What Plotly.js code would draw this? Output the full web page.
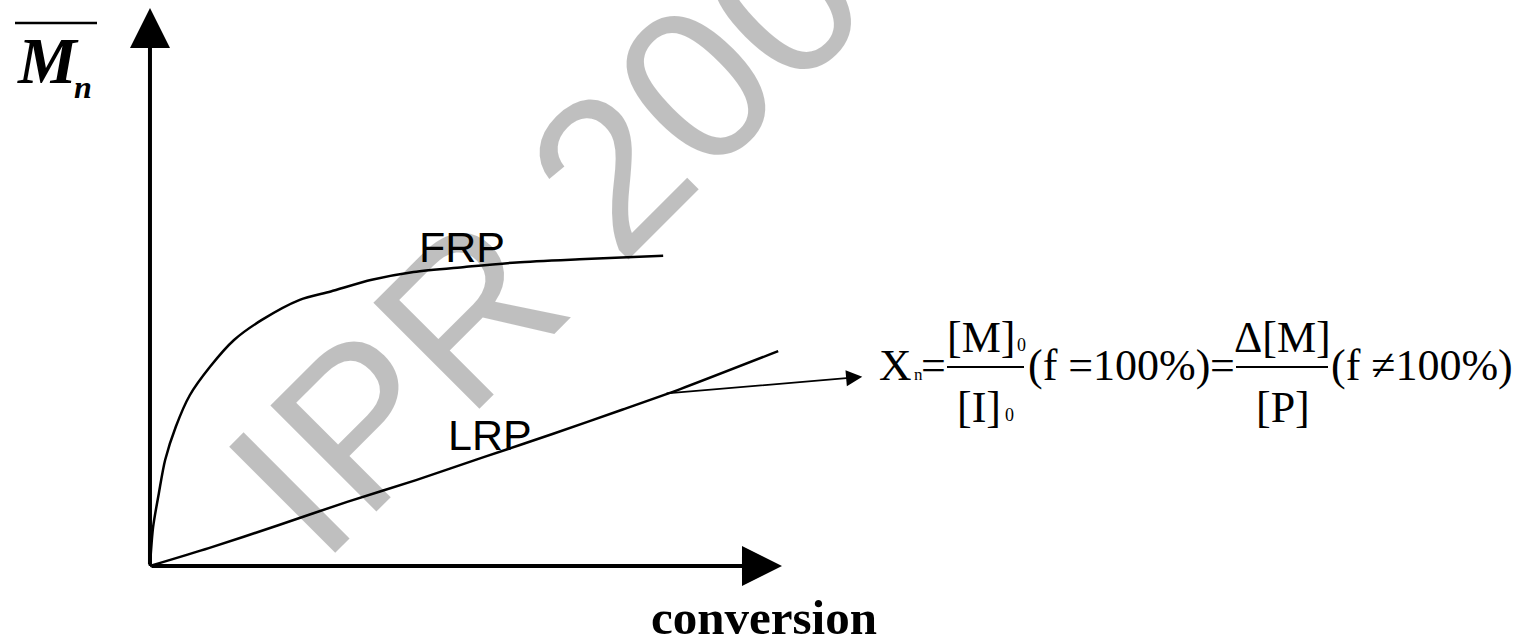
<!DOCTYPE html>
<html>
<head>
<meta charset="utf-8">
<script src="https://cdn.plot.ly/plotly-3.0.1.min.js"></script>
<style>
  html, body { margin: 0; padding: 0; background: #fff; }
  #chart { width: 1528px; height: 641px; }
</style>
</head>
<body>
<div id="chart"></div>
<script>
// conversion (%), Mn (relative units)
let frpConv = [0, 0.5, 1.4, 2.4, 4.1, 6.3, 9.5, 13.3, 17.7, 23.7, 28.6, 35.1, 41.7, 49.8, 58.0, 68.9, 81.2];
let frpMn   = [0, 7.0, 13.0, 19.0, 25.0, 30.6, 35.7, 40.5, 44.1, 47.7, 49.2, 51.3, 52.7, 53.6, 54.4, 55.0, 55.6];
let lrpConv = [0, 9.3, 20.3, 31.2, 42.1, 52.8, 63.8, 74.7, 83.9, 99.4];
let lrpMn   = [0, 3.2, 7.3, 11.5, 15.4, 19.5, 23.7, 28.0, 31.7, 38.5];

const W = 1528, H = 641;
// pixel -> paper helpers for the free-standing text
function px(v) { return v / W; }
function py(v) { return 1 - v / H; }

let serif = "Liberation Serif, Times New Roman, serif";
let sans = "Liberation Sans, Arial, sans-serif";

function txt(text, x, y, size, fam, extra) {
    let a = {
        text: text, xref: 'paper', yref: 'paper', x: px(x), y: py(y),
        xanchor: 'center', yanchor: 'middle', showarrow: false,
        font: {family: fam || serif, size: size, color: '#000'}
    };
    return Object.assign(a, extra || {});
}

let frp = {
    x: frpConv, y: frpMn, mode: 'lines', name: 'FRP',
    line: {color: '#000', width: 2.5, shape: 'spline', smoothing: 0.8}
};
let lrp = {
    x: lrpConv, y: lrpMn, mode: 'lines', name: 'LRP',
    line: {color: '#000', width: 2.5, shape: 'spline', smoothing: 0.6}
};

let annotations = [
    // watermark
    txt('IPR 2007', 589, 193, 218, sans, {textangle: -45, font: {family: sans, size: 218, color: 'rgba(0,0,0,0.25)'}}),
    // axes with arrow heads
    {x: 100, y: 0, ax: 0, ay: 0, xref: 'x', yref: 'y', axref: 'x', ayref: 'y', text: '',
        showarrow: true, arrowhead: 2, arrowsize: 2, arrowwidth: 4, arrowcolor: '#000'},
    {x: 0, y: 100, ax: 0, ay: 0, xref: 'x', yref: 'y', axref: 'x', ayref: 'y', text: '',
        showarrow: true, arrowhead: 2, arrowsize: 2, arrowwidth: 4, arrowcolor: '#000'},
    // pointer from LRP to the formula
    {x: 112.7, y: 33.9, ax: 81.5, ay: 30.9, xref: 'x', yref: 'y', axref: 'x', ayref: 'y', text: '',
        showarrow: true, arrowhead: 2, arrowsize: 1.9, arrowwidth: 1.7, arrowcolor: '#000'},
    // curve labels
    txt('FRP', 462, 247, 43, sans),
    txt('LRP', 490, 435, 43, sans),
    // axis titles
    txt('<b>conversion</b>', 764, 617, 49, serif),
    txt('<b><i>M</i></b>', 48, 60, 66, serif),
    txt('<b><i>n</i></b>', 83, 87, 32, serif),
    // formula
    txt('X', 896, 365, 45),
    txt('n', 918, 374, 17),
    txt('=', 933, 365, 44),
    txt('[M]', 981, 337, 44),
    txt('0', 1021, 345, 18),
    txt('[I]', 979, 407, 44),
    txt('0', 1010, 415, 18),
    txt('(f =100%)', 1119, 365, 44),
    txt('=', 1222, 365, 44),
    txt('\u0394[M]', 1282, 337, 44),
    txt('[P]', 1283, 407, 44),
    txt('(f \u2260100%)', 1422, 365, 44)
];

let shapes = [
    // bar over M
    {type: 'line', xref: 'paper', yref: 'paper', x0: px(15), x1: px(97), y0: py(23), y1: py(23),
        line: {color: '#000', width: 2.5}},
    // fraction bars
    {type: 'line', xref: 'paper', yref: 'paper', x0: px(947), x1: px(1024), y0: py(367), y1: py(367),
        line: {color: '#000', width: 2}},
    {type: 'line', xref: 'paper', yref: 'paper', x0: px(1236), x1: px(1328), y0: py(367), y1: py(367),
        line: {color: '#000', width: 2}}
];

let layout = {
    width: W, height: H,
    margin: {l: 0, r: 0, t: 0, b: 0, pad: 0},
    paper_bgcolor: '#fff', plot_bgcolor: '#fff',
    showlegend: false,
    xaxis: {range: [-23.73, 218.04], visible: false, fixedrange: true},
    yaxis: {range: [-13.44, 101.43], visible: false, fixedrange: true},
    annotations: annotations,
    shapes: shapes
};

Plotly.newPlot('chart', [frp, lrp], layout, {displayModeBar: false, staticPlot: true});
</script>
</body>
</html>
